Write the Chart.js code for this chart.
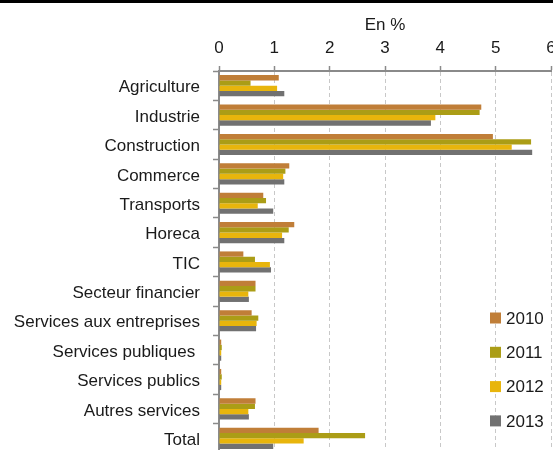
<!DOCTYPE html>
<html>
<head>
<meta charset="utf-8">
<script src="https://cdn.jsdelivr.net/npm/chart.js@4/dist/chart.umd.min.js"></script>
<style>
  html, body { margin: 0; padding: 0; background: #fff; overflow: hidden; }
  #wrap { width: 553px; border-top: 3px solid #000; }
  canvas { display: block; }
</style>
</head>
<body>
<div id="wrap"><canvas id="chart" width="553" height="450"></canvas></div>
<script>
// Secteurs et valeurs (en %)
const categories = ['Agriculture', 'Industrie', 'Construction', 'Commerce', 'Transports', 'Horeca', 'TIC',
  'Secteur financier', 'Services aux entreprises', 'Services publiques ', 'Services publics', 'Autres services', 'Total'];
const years = ['2010', '2011', '2012', '2013'];
const colors = ['#c07e38', '#ab9d16', '#e8b50c', '#717171'];

const values2010 = [1.08, 4.74, 4.95, 1.27, 0.80, 1.36, 0.44, 0.66, 0.59, 0.04, 0.04, 0.66, 1.80];
const values2011 = [0.57, 4.71, 5.64, 1.20, 0.85, 1.26, 0.65, 0.66, 0.71, 0.05, 0.05, 0.65, 2.64];
const values2012 = [1.05, 3.91, 5.29, 1.16, 0.70, 1.14, 0.92, 0.53, 0.68, 0.04, 0.04, 0.53, 1.53];
const values2013 = [1.18, 3.83, 5.66, 1.18, 0.98, 1.18, 0.94, 0.54, 0.67, 0.04, 0.04, 0.54, 0.98];
const xTicks = [0, 1, 2, 3, 4, 5, 6];

const FONT = '"Liberation Sans", Arial, sans-serif';
const series = [values2010, values2011, values2012, values2013];

// legend drawn in the bottom-right of the plot area
const sideLegend = {
  id: 'sideLegend',
  afterDraw(chart) {
    const { ctx, chartArea } = chart;
    ctx.save();
    ctx.font = '17px ' + FONT;
    ctx.textBaseline = 'middle';
    chart.data.datasets.forEach((ds, i) => {
      const y = chartArea.bottom - 135 + i * 34.3;
      const x = chartArea.right - 61;
      ctx.fillStyle = ds.backgroundColor;
      ctx.fillRect(x, y - 5.5, 11, 11);
      ctx.fillStyle = '#1a1a1a';
      ctx.fillText(ds.label, x + 16, y + 1);
    });
    ctx.restore();
  }
};

const noPad = s => { s.paddingLeft = 0; s.paddingRight = 0; s.paddingTop = 0; s.paddingBottom = 0; };

new Chart(document.getElementById('chart'), {
  type: 'bar',
  data: {
    labels: categories,
    datasets: years.map((y, i) => ({
      label: y,
      data: series[i],
      backgroundColor: colors[i],
      borderWidth: 0,
      categoryPercentage: 0.72,
      barPercentage: 1,
    }))
  },
  options: {
    indexAxis: 'y',
    responsive: false,
    animation: false,
    layout: { padding: { left: 0, right: 2, top: 0, bottom: 0 } },
    plugins: { legend: { display: false }, tooltip: { enabled: false } },
    scales: {
      x: {
        position: 'top',
        min: 0, max: 6,
        afterBuildTicks: s => { s.ticks = xTicks.map(v => ({ value: v })); },
        afterFit: s => { s.height = 68; noPad(s); },
        title: { display: true, text: 'En %', color: '#1a1a1a', font: { family: FONT, size: 17 }, padding: { top: 12, bottom: 0 } },
        ticks: { color: '#1a1a1a', font: { family: FONT, size: 17 }, padding: 7 },
        grid: {
          color: c => (c.tick && c.tick.value === 0) ? 'rgba(0,0,0,0)' : '#c8c8c8',
          lineWidth: 1,
          tickLength: 5,
          tickColor: '#8a8a8a',
          tickWidth: 1.5,
        },
        border: { display: true, color: '#8a8a8a', width: 2, dash: [4, 3] },
      },
      y: {
        afterFit: s => { s.width = 219; noPad(s); },
        ticks: { color: '#1a1a1a', font: { family: FONT, size: 17 }, padding: 13, labelOffset: 2, autoSkip: false },
        grid: { drawOnChartArea: false, tickLength: 6, tickColor: '#8a8a8a', tickWidth: 1.5, offset: true },
        border: { display: true, color: '#8a8a8a', width: 2 },
      }
    }
  },
  plugins: [sideLegend]
});
</script>
</body>
</html>
